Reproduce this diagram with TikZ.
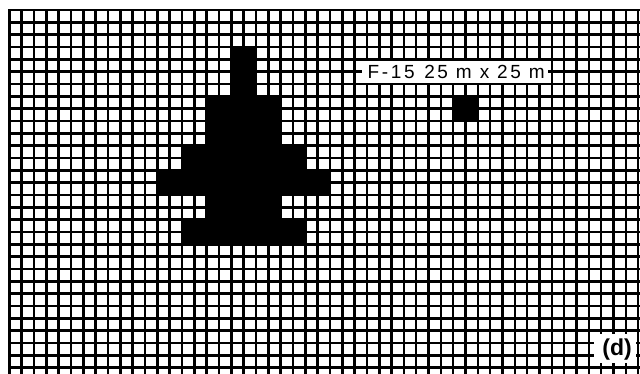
\documentclass[tikz,border=0pt]{standalone}
\usepackage{fontspec}
\setmainfont{Liberation Sans}
\newfontfamily\lblfont[LetterSpace=14]{Liberation Sans}
\begin{document}
\begin{tikzpicture}[x=1pt,y=-1pt,
  gridline/.style={line width=2.6pt, line cap=rect},
  blk/.style={fill=black},
  whitebox/.style={fill=white},
  lbltext/.style={font=\lblfont\fontsize{19}{19}\selectfont, inner sep=0pt},
  tagtext/.style={font=\bfseries\fontsize{23}{23}\selectfont, inner sep=0pt}]
\useasboundingbox (0,0) rectangle (640,373);
\clip (0,0) rectangle (640,373);
\begin{scope}[shift={(9.3,10)},x=12.33pt,y=-12.33pt]
  \foreach \i in {0,...,51} \draw[gridline] (\i,0) -- (\i,31);
  \foreach \j in {0,...,30} \draw[gridline] (0,\j) -- (52,\j);
  % aircraft silhouette
  \fill[blk] (18,3) -- (20,3) -- (20,7) -- (22,7) -- (22,11) -- (24,11) -- (24,13)
    -- (26,13) -- (26,15) -- (22,15) -- (22,17) -- (24,17) -- (24,19) -- (14,19)
    -- (14,17) -- (16,17) -- (16,15) -- (12,15) -- (12,13) -- (14,13) -- (14,11)
    -- (16,11) -- (16,7) -- (18,7) -- cycle;
  % small square
  \fill[blk] (36,7) rectangle (38,9);
  % label
  \fill[whitebox] (28.6,4.13) rectangle (43.7,5.89);
  \node[lbltext] (lbl) at (36.25,5.05) {F-15\hspace{0.5em}25 m x 25 m};
  % panel tag
  \fill[whitebox] (47.4,26.3) rectangle (50.8,28.6);
  \node[tagtext] (tag) at (49.3,27.5) {(d)};
\end{scope}
\end{tikzpicture}
\end{document}
